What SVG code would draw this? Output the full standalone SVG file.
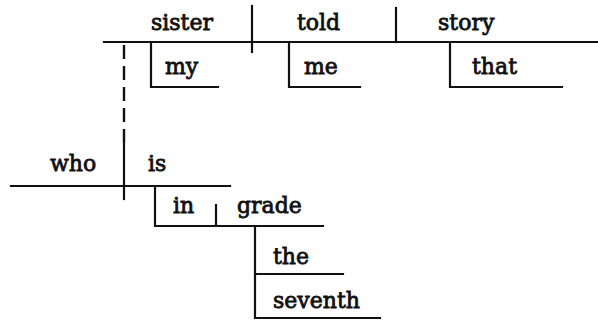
<svg xmlns="http://www.w3.org/2000/svg" width="598" height="320" viewBox="0 0 598 320">
  <style>
    .ln { stroke: #111; stroke-width: 2.2; fill: none; stroke-linecap: square; }
    .dash { stroke: #111; stroke-width: 2.4; fill: none; stroke-dasharray: 14 7; }
    text { font-family: "DejaVu Serif", "Liberation Serif", serif; font-size: 22px; fill: #111; stroke: #111; stroke-width: 0.8; }
  </style>
  <rect width="598" height="320" fill="#fff"/>

  <!-- connectors: baselines, dividers and modifier slants -->
  <g id="connectors">
    <!-- main clause baseline -->
    <line class="ln" x1="104" y1="42" x2="598" y2="42"/>
    <line class="ln" x1="252" y1="6" x2="252" y2="52"/>
    <line class="ln" x1="396" y1="8" x2="396" y2="42"/>
    <!-- relative clause link -->
    <line class="dash" x1="124" y1="45" x2="124" y2="142"/>
    <!-- relative clause baseline -->
    <line class="ln" x1="11" y1="186" x2="230" y2="186"/>
    <line class="ln" x1="124" y1="142" x2="124" y2="199"/>
    <!-- modifiers on main line -->
    <polyline class="ln" points="151,42 151,87 218,87"/>
    <polyline class="ln" points="289,42 289,87 360,87"/>
    <polyline class="ln" points="450,42 450,87 562,87"/>
    <!-- prepositional phrase -->
    <polyline class="ln" points="155,186 155,226 323,226"/>
    <line class="ln" x1="216" y1="205" x2="216" y2="226"/>
    <!-- modifiers of grade -->
    <polyline class="ln" points="255,226 255,318 380,318"/>
    <line class="ln" x1="255" y1="274" x2="343" y2="274"/>
  </g>

  <g id="sister"><text x="151" y="30">sister</text></g>
  <g id="told"><text x="297" y="30">told</text></g>
  <g id="story"><text x="438" y="30">story</text></g>
  <g id="my"><text x="165" y="74">my</text></g>
  <g id="me"><text x="304" y="74">me</text></g>
  <g id="that"><text x="472" y="74">that</text></g>
  <g id="who"><text x="50" y="171">who</text></g>
  <g id="is"><text x="148" y="171">is</text></g>
  <g id="in"><text x="173" y="213">in</text></g>
  <g id="grade"><text x="237" y="213">grade</text></g>
  <g id="the"><text x="273" y="264">the</text></g>
  <g id="seventh"><text x="273" y="308">seventh</text></g>
</svg>
